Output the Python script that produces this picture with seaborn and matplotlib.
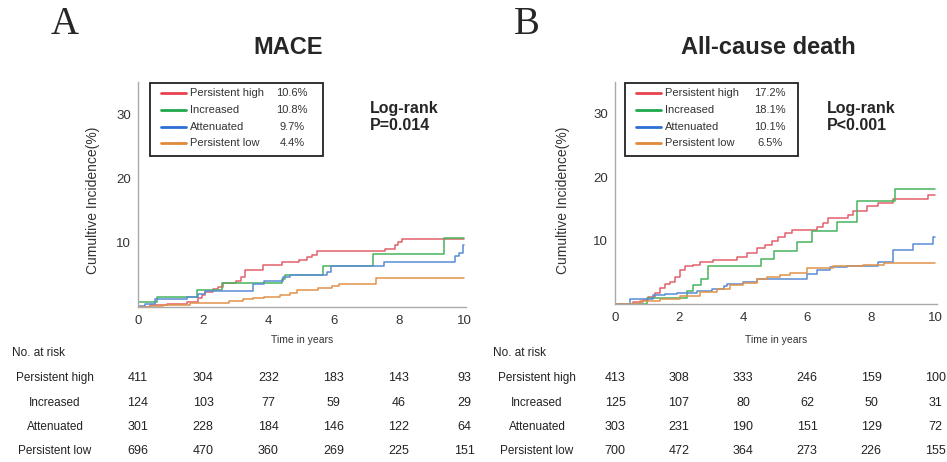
import matplotlib
matplotlib.use("Agg")
import matplotlib.pyplot as plt
import pandas as pd
import seaborn as sns
from matplotlib.lines import Line2D
from matplotlib.patches import Rectangle
from matplotlib.ticker import MultipleLocator
from matplotlib.transforms import blended_transform_factory

# ---- data ----
groups = ["Persistent high", "Increased", "Attenuated", "Persistent low"]
curve_colors = ["#e3606b", "#47b35c", "#5a8bd6", "#e0924a"]
legend_colors = ["#e8414f", "#1fa84a", "#2f6fd4", "#e08a3a"]

# Panel A - MACE, cumulative incidence (%) step curves
mace_high_t = [0, 0.37, 0.9, 1.5, 1.85, 1.95, 2.05, 2.3, 2.45, 2.6, 3.0, 3.15, 3.28, 3.84,
               4.41, 4.95, 5.17, 5.33, 5.5, 7.58, 7.88, 7.98, 8.09, 10]
mace_high_v = [0, 0.26, 0.5, 0.8, 1.35, 1.9, 2.4, 2.75, 3.1, 3.7, 4.0, 4.7, 5.7, 6.5,
               7.0, 7.3, 7.8, 8.05, 8.75, 9.1, 9.6, 10.1, 10.6, 10.6]
mace_incr_t = [0, 0.57, 1.8, 2.57, 4.43, 4.5, 5.68, 7.22, 9.37, 10]
mace_incr_v = [0.8, 1.6, 2.65, 3.7, 4.4, 5.0, 6.45, 8.25, 10.8, 10.8]
mace_att_t = [0, 0.2, 0.52, 1.5, 1.85, 2.05, 3.54, 3.85, 4.45, 4.66, 5.79, 5.92, 7.53,
              9.73, 9.85, 9.97, 10]
mace_att_v = [0.15, 0.5, 1.2, 1.6, 2.05, 2.55, 3.6, 4.0, 4.6, 5.0, 5.5, 6.4, 7.0,
              7.9, 8.4, 9.7, 9.7]
mace_low_t = [0, 0.37, 0.78, 1.6, 2.8, 3.23, 3.54, 3.85, 4.36, 4.66, 4.87, 5.53, 5.94,
              6.15, 7.3, 10]
mace_low_v = [0, 0.15, 0.36, 0.67, 0.94, 1.2, 1.4, 1.6, 1.85, 2.2, 2.6, 2.9, 3.3,
              3.6, 4.45, 4.45]

# Panel B - all-cause death
death_high_t = [0, 0.57, 0.89, 1.04, 1.25, 1.4, 1.56, 1.72, 1.88, 2.03, 2.19, 2.45, 2.66,
                3.07, 3.8, 4.11, 4.43, 4.69, 4.9, 5.1, 5.31, 5.52, 6.3, 6.5, 6.67, 7.29,
                7.45, 7.86, 8.23, 8.7, 9.79, 10]
death_high_v = [0, 0.27, 0.6, 1.1, 1.8, 2.6, 3.1, 3.5, 4.2, 5.4, 6.0, 6.2, 6.6,
                7.0, 7.4, 8.0, 8.8, 9.3, 9.9, 10.5, 11.2, 11.7, 12.2, 12.8, 13.6, 14.1,
                14.7, 15.5, 16.0, 16.5, 17.2, 17.2]
death_incr_t = [0, 1.0, 2.24, 2.45, 2.7, 2.92, 4.55, 4.98, 5.68, 6.15, 6.93, 7.55, 8.75, 10]
death_incr_v = [0, 1.0, 2.0, 3.0, 3.9, 6.0, 7.1, 8.3, 9.7, 11.5, 13.0, 16.2, 18.1, 18.1]
death_att_t = [0, 0.47, 1.2, 1.56, 1.93, 2.55, 3.02, 3.39, 3.5, 4.0, 4.43, 5.99, 6.3,
               6.72, 7.24, 8.23, 8.7, 9.32, 9.95, 10]
death_att_v = [0, 0.86, 1.35, 1.5, 1.8, 2.0, 2.3, 2.85, 3.2, 3.4, 4.0, 4.7, 5.3,
               5.8, 6.0, 6.6, 8.5, 9.4, 10.6, 10.6]
death_low_t = [0, 0.78, 1.4, 2.03, 2.66, 3.18, 3.6, 4.0, 4.43, 4.74, 5.16, 5.47, 5.99,
               6.82, 7.76, 8.39, 10]
death_low_v = [0, 0.4, 0.8, 1.2, 1.9, 2.3, 3.0, 3.3, 3.9, 4.2, 4.6, 4.9, 5.6,
               6.0, 6.1, 6.5, 6.5]

mace_pct = ["10.6%", "10.8%", "9.7%", "4.4%"]
death_pct = ["17.2%", "18.1%", "10.1%", "6.5%"]

risk_times = [0, 2, 4, 6, 8, 10]
mace_risk = [[411, 304, 232, 183, 143, 93],
             [124, 103, 77, 59, 46, 29],
             [301, 228, 184, 146, 122, 64],
             [696, 470, 360, 269, 225, 151]]
death_risk = [[413, 308, 333, 246, 159, 100],
              [125, 107, 80, 62, 50, 31],
              [303, 231, 190, 151, 129, 72],
              [700, 472, 364, 273, 226, 155]]

W, H = 947, 462


def fx(x):
    return x / W


def fy(y):
    return 1 - y / H


def curves_frame(times, values):
    rows = []
    for g, t, v in zip(groups, times, values):
        rows += [{"group": g, "time": a, "value": b} for a, b in zip(t, v)]
    return pd.DataFrame(rows)


def draw_panel(fig, box, letter, title, df, pct, pval, risk, geo):
    left, bottom_px, width, height = box
    ax = fig.add_axes([fx(left), fy(bottom_px), width / W, height / H])
    sns.lineplot(data=df, x="time", y="value", hue="group", hue_order=groups,
                 palette=curve_colors, estimator=None, drawstyle="steps-post",
                 linewidth=1.1, legend=False, ax=ax)
    ax.set_xlim(0, 10.06)
    ax.set_ylim(0, 35)
    ax.xaxis.set_major_locator(MultipleLocator(2))
    ax.xaxis.set_minor_locator(MultipleLocator(1))
    ax.set_yticks([10, 20, 30])
    ax.yaxis.set_minor_locator(MultipleLocator(5))
    ax.tick_params(axis="x", which="both", direction="in", length=3, color="#999999",
                   labelsize=9.5, labelcolor="#333333", pad=6)
    ax.tick_params(axis="y", which="both", direction="out", length=3, color="#999999",
                   labelsize=9.5, labelcolor="#333333", pad=2)
    for side in ["top", "right"]:
        ax.spines[side].set_visible(False)
    for side in ["left", "bottom"]:
        ax.spines[side].set_color("#aaaaaa")
        ax.spines[side].set_linewidth(1.0)
    ax.set_xlabel("")
    ax.set_ylabel("")

    # labels and titles
    fig.text(fx(geo["letter_x"]), fy(25), letter, family="Liberation Serif",
             fontsize=28, ha="center", va="center")
    fig.text(fx(geo["title_x"]), fy(48), title, fontsize=17, fontweight="bold",
             ha="center", va="center")
    fig.text(fx(geo["ylab_x"]), fy(200), "Cumultive Incidence(%)", rotation=90,
             fontsize=10, color="#333333", ha="center", va="center")
    fig.text(fx(left + width / 2), fy(340), "Time in years", fontsize=7.5,
             color="#333333", ha="center", va="center")
    fig.text(fx(geo["lr_x"]), fy(117), "Log-rank\n" + pval, fontsize=11.5,
             fontweight="bold", ha="left", va="center", linespacing=1.25)

    # legend box
    lx = geo["leg_x"]
    fig.add_artist(Rectangle((fx(lx), fy(156)), 173 / W, 73 / H, transform=fig.transFigure,
                             fill=False, edgecolor="#222222", linewidth=1.3))
    for i, (g, c, p) in enumerate(zip(groups, legend_colors, pct)):
        yy = fy(93 + 16.8 * i)
        fig.add_artist(Line2D([fx(lx + 11), fx(lx + 36)], [yy, yy], color=c, linewidth=2,
                              transform=fig.transFigure))
        fig.text(fx(lx + 40), yy, g, fontsize=8, color="#333333", ha="left", va="center")
        fig.text(fx(lx + geo["pct_dx"]), yy, p, fontsize=8, color="#333333",
                 ha="center", va="center")

    # risk table
    fig.text(fx(geo["nar_x"]), fy(353), "No. at risk", fontsize=8.5, color="#222222",
             ha="left", va="center")
    tr = blended_transform_factory(ax.transData, fig.transFigure)
    for i, (g, counts) in enumerate(zip(groups, risk)):
        yy = fy(378 + 24.5 * i)
        fig.text(fx(geo["row_x"]), yy, g, fontsize=8.5, color="#222222",
                 ha="center", va="center")
        for t, n in zip(risk_times, counts):
            ax.text(t, yy, str(n), transform=tr, fontsize=9, color="#222222",
                    ha="center", va="center", clip_on=False)
    return ax


sns.set_theme(style="white")
plt.rcParams["font.family"] = ["Liberation Sans", "DejaVu Sans"]

fig = plt.figure(figsize=(9.47, 4.62), dpi=100)

mace_df = curves_frame([mace_high_t, mace_incr_t, mace_att_t, mace_low_t],
                       [mace_high_v, mace_incr_v, mace_att_v, mace_low_v])
death_df = curves_frame([death_high_t, death_incr_t, death_att_t, death_low_t],
                        [death_high_v, death_incr_v, death_att_v, death_low_v])

draw_panel(fig, (138, 307, 328, 225), "A", "MACE", mace_df, mace_pct, "P=0.014", mace_risk,
           dict(letter_x=65, title_x=288, ylab_x=93, lr_x=370, leg_x=150, pct_dx=142,
                nar_x=12, row_x=55))
draw_panel(fig, (615, 304, 322, 222), "B", "All-cause death", death_df, death_pct, "P<0.001",
           death_risk,
           dict(letter_x=527, title_x=768, ylab_x=563, lr_x=827, leg_x=625, pct_dx=145,
                nar_x=493, row_x=537))

fig.savefig("out.png", dpi=100)
